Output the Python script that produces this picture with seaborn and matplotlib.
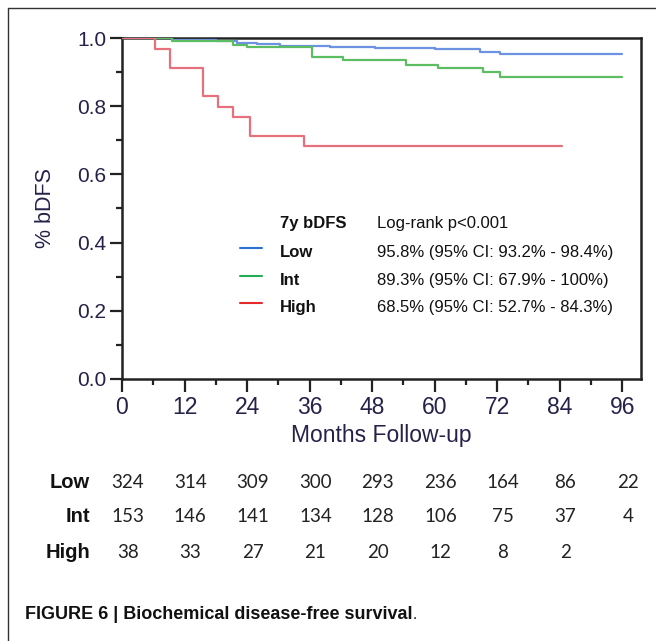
import numpy as np
import pandas as pd
import matplotlib
matplotlib.use('Agg')
import matplotlib.pyplot as plt
import matplotlib.transforms as mtransforms
from matplotlib.lines import Line2D
import seaborn as sns

# ---------------- data ----------------
groups = ['Low', 'Int', 'High']
low_months = [0, 9.5, 18, 22, 26, 30.3, 40, 48.6, 60, 68.7, 72.6, 96]
low_surv = [1.0, 0.993, 0.990, 0.986, 0.983, 0.978, 0.975, 0.970, 0.968, 0.960, 0.952, 0.952]
int_months = [0, 9.5, 21.3, 24, 36.4, 42.4, 54.5, 60.7, 69.3, 72.6, 96]
int_surv = [1.0, 0.990, 0.980, 0.973, 0.944, 0.936, 0.921, 0.912, 0.899, 0.887, 0.887]
high_months = [0, 6.3, 9.3, 15.5, 18.4, 21.3, 24.6, 35.0, 84.5]
high_surv = [1.0, 0.967, 0.913, 0.829, 0.798, 0.769, 0.712, 0.682, 0.682]

x_ticks = [0, 12, 24, 36, 48, 60, 72, 84, 96]
y_ticks = [0.0, 0.2, 0.4, 0.6, 0.8, 1.0]

risk_low = [324, 314, 309, 300, 293, 236, 164, 86, 22]
risk_int = [153, 146, 141, 134, 128, 106, 75, 37, 4]
risk_high = [38, 33, 27, 21, 20, 12, 8, 2]

legend_header = ['7y bDFS', 'Log-rank p<0.001']
legend_stats = ['95.8% (95% CI: 93.2% - 98.4%)',
                '89.3% (95% CI: 67.9% - 100%)',
                '68.5% (95% CI: 52.7% - 84.3%)']
caption = 'FIGURE 6 | Biochemical disease-free survival'

curve_colors = {'Low': '#6d92e2', 'Int': '#5cbd62', 'High': '#e7707f'}
legend_colors = ['#2a73d4', '#22ac55', '#e42a2a']

df = pd.concat([
    pd.DataFrame({'month': low_months, 'surv': low_surv, 'group': 'Low'}),
    pd.DataFrame({'month': int_months, 'surv': int_surv, 'group': 'Int'}),
    pd.DataFrame({'month': high_months, 'surv': high_surv, 'group': 'High'}),
], ignore_index=True)

# ---------------- figure ----------------
sns.set_style('white')
plt.rcParams['font.family'] = ['Liberation Sans', 'DejaVu Sans']

W, H = 656, 641
fig = plt.figure(figsize=(W / 100, H / 100), dpi=100)
left, right, top, bottom = 122, 641, 38, 379
ax = fig.add_axes([left / W, 1 - bottom / H, (right - left) / W, (bottom - top) / H])

sns.lineplot(data=df, x='month', y='surv', hue='group', hue_order=groups,
             palette=curve_colors, drawstyle='steps-post', estimator=None,
             linewidth=1.6, legend=False, ax=ax, zorder=3)

ax.set_xlim(0, 99.6)
ax.set_ylim(0, 1.0)
ax.set_xticks(x_ticks)
ax.set_xticks(np.arange(6, 100, 12), minor=True)
ax.set_yticks(y_ticks)
ax.set_yticks(np.arange(0.1, 1.0, 0.2), minor=True)
ax.set_xticklabels([str(v) for v in x_ticks])
ax.set_yticklabels([f'{v:.1f}' for v in y_ticks])

tick_col = '#25224a'
ax.tick_params(axis='both', which='both', bottom=True, left=True, top=False, right=False)
ax.tick_params(axis='both', which='major', direction='out', length=9, width=1.6,
               color='#222222', labelsize=15, labelcolor=tick_col, pad=2.5)
ax.tick_params(axis='both', which='minor', direction='out', length=4.5, width=1.6,
               color='#222222')
ax.tick_params(axis='x', which='major', labelsize=16.5, pad=3)
for s in ax.spines.values():
    s.set_visible(True)
    s.set_linewidth(1.8)
    s.set_color('#222222')

ax.set_xlabel('Months Follow-up', fontsize=16.5, color=tick_col, labelpad=4)
ax.set_ylabel('% bDFS', fontsize=15.5, color=tick_col, labelpad=15)

# legend block (inside axes, data coordinates)
leg_y_text = [0.455, 0.371, 0.290, 0.210]
ax.text(30.3, leg_y_text[0], legend_header[0], fontsize=12, fontweight='bold',
        va='center', ha='left', color='#111111')
ax.text(49.0, leg_y_text[0], legend_header[1], fontsize=12,
        va='center', ha='left', color='#111111')
for i, g in enumerate(groups):
    yy = leg_y_text[i + 1]
    ax.plot([22.6, 26.8], [yy + 0.012, yy + 0.012], color=legend_colors[i], lw=1.5)
    ax.text(30.3, yy, g, fontsize=12, fontweight='bold', va='center', ha='left',
            color='#111111')
    ax.text(49.0, yy, legend_stats[i], fontsize=12, va='center', ha='left',
            color='#111111')

# risk table
trans = mtransforms.blended_transform_factory(ax.transData, fig.transFigure)
rows = [risk_low, risk_int, risk_high]
row_y = [482, 517, 552]
for g, vals, py in zip(groups, rows, row_y):
    fig.text(90 / W, 1 - py / H, g, fontsize=14.5, fontweight='bold',
             ha='right', va='center', color='#111111')
    for t, v in zip(x_ticks, vals):
        ax.text(t + 1.1, 1 - py / H, str(v), transform=trans, fontsize=13.5,
                ha='center', va='center', family=['Lato', 'DejaVu Sans'],
                color='#222222', clip_on=False)

# caption
cap_y = 1 - 619 / H
cap = fig.text(25 / W, cap_y, caption, fontsize=13, fontweight='bold',
               ha='left', va='baseline', color='#111111')
fig.canvas.draw()
bb = cap.get_window_extent(renderer=fig.canvas.get_renderer())
fig.text(bb.x1 / W + 0.5 / W, cap_y, '.', fontsize=11, color='#111111',
         ha='left', va='baseline')

# outer frame lines
fig.add_artist(Line2D([8 / W, 1], [1 - 8 / H, 1 - 8 / H], transform=fig.transFigure,
                      color='#333333', lw=1.0))
fig.add_artist(Line2D([8 / W, 8 / W], [0, 1 - 8 / H], transform=fig.transFigure,
                      color='#333333', lw=1.0))

fig.savefig('out.png', dpi=100, facecolor='white')
